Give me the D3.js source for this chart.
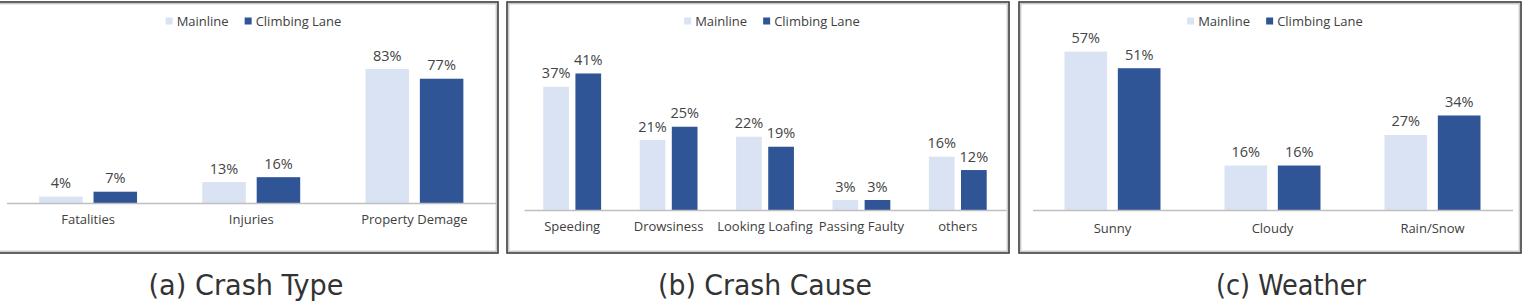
<!DOCTYPE html>
<html>
<head>
<meta charset="utf-8">
<script src="https://cdn.jsdelivr.net/npm/d3@7"></script>
<style>
  body { margin: 0; background: #fff; }
  svg { display: block; }
  .val { font-family: "Open Sans", sans-serif; font-size: 14.5px; fill: #444; }
  .cat text { font-family: "Open Sans", sans-serif; font-size: 13px; fill: #404040; }
  .leg { font-family: "Open Sans", sans-serif; font-size: 13px; fill: #404040; }
  .cap { font-family: "Liberation Sans Narrow", "DejaVu Sans Condensed", sans-serif; font-size: 28px; fill: #333; }
</style>
</head>
<body>
<svg id="chart" width="1533" height="301"></svg>
<script>
// data
var series = ['Mainline', 'Climbing Lane'];

var type_cats = ['Fatalities', 'Injuries', 'Property  Demage'];
var type_main = [4, 13, 83];
var type_climb = [7, 16, 77];

var cause_cats = ['Speeding', 'Drowsiness', 'Looking Loafing', 'Passing Faulty', 'others'];
var cause_main = [37, 21, 22, 3, 16];
var cause_climb = [41, 25, 19, 3, 12];

var weather_cats = ['Sunny', 'Cloudy', 'Rain/Snow'];
var weather_main = [57, 16, 27];
var weather_climb = [51, 16, 34];

var captions = ['(a) Crash Type', '(b) Crash Cause', '(c) Weather'];

var colors = ['#DAE3F3', '#2F5597'];

// layout of the three boxes
var panels = [
	{cats: type_cats, main: type_main, climb: type_climb,
		box: [-6, 2, 504, 251], x: [6.5, 496], base: 203, ppct: 1.614, legc: 253.5, catdy: 24,
		cap: {x: 246, w: 195}},
	{cats: cause_cats, main: cause_main, climb: cause_climb,
		box: [507, 2, 502, 251], x: [524, 1006], base: 210, ppct: 3.33, legc: 772, catdy: 24,
		cap: {x: 765, w: 214}},
	{cats: weather_cats, main: weather_main, climb: weather_climb,
		box: [1019, 2, 502, 251], x: [1032.5, 1512.5], base: 210, ppct: 2.78, legc: 1275, catdy: 26,
		cap: {x: 1291, w: 150}}
];

var svg = d3.select('#chart');

panels.forEach(function(p, k) {
	var g = svg.append('g');

	// frame (dark line with a grey inner line)
	g.append('rect')
		.attr('x', p.box[0]).attr('y', p.box[1])
		.attr('width', p.box[2]).attr('height', p.box[3])
		.attr('fill', 'none').attr('stroke', '#3c3c3c').attr('stroke-width', 1.6);
	g.append('rect')
		.attr('x', p.box[0] + 1.8).attr('y', p.box[1] + 1.8)
		.attr('width', p.box[2] - 3.6).attr('height', p.box[3] - 3.6)
		.attr('fill', 'none').attr('stroke', '#b4b4b4').attr('stroke-width', 1);

	var x0 = d3.scaleBand()
		.domain(p.cats)
		.range(p.x)
		.padding(0);

	var x1 = d3.scaleBand()
		.domain(series)
		.range([0, x0.bandwidth()])
		.paddingInner(0.2)
		.paddingOuter(0.6);

	var y = d3.scaleLinear()
		.domain([0, 100])
		.range([p.base, p.base - 100 * p.ppct]);

	var rows = p.cats.map(function(c, i) {
		return [{cat: c, s: series[0], v: p.main[i]}, {cat: c, s: series[1], v: p.climb[i]}];
	});
	var flat = [].concat.apply([], rows);

	g.selectAll('rect.bar')
		.data(flat).enter()
		.append('rect')
		.attr('class', 'bar')
		.attr('x', function(d) { return x0(d.cat) + x1(d.s); })
		.attr('y', function(d) { return y(d.v); })
		.attr('width', x1.bandwidth())
		.attr('height', function(d) { return y(0) - y(d.v); })
		.attr('fill', function(d) { return d.s == series[0] ? colors[0] : colors[1]; });

	g.selectAll('text.val')
		.data(flat).enter()
		.append('text')
		.attr('class', 'val')
		.attr('x', function(d) { return x0(d.cat) + x1(d.s) + x1.bandwidth() / 2; })
		.attr('y', function(d) { return y(d.v) - 8.5; })
		.attr('text-anchor', 'middle')
		.text(function(d) { return d.v + '%'; });

	// baseline and category names
	var ax = g.append('g')
		.attr('class', 'cat')
		.attr('transform', 'translate(0,' + p.base + ')')
		.call(d3.axisBottom(x0).tickSize(0).tickPadding(p.catdy - 12));
	ax.select('.domain').attr('stroke', '#bfbfbf').attr('stroke-width', 1.6);
	ax.selectAll('text').attr('fill', '#404040').attr('font-family', null).attr('font-size', null);

	// legend
	var leg = g.append('g');
	var xx = 0;
	series.forEach(function(s, i) {
		leg.append('rect')
			.attr('x', xx).attr('y', -3.5)
			.attr('width', 7).attr('height', 7)
			.attr('fill', colors[i]);
		var t = leg.append('text')
			.attr('class', 'leg')
			.attr('x', xx + 11).attr('y', 4.5)
			.text(s);
		xx += 11 + t.node().getComputedTextLength() + 16;
	});
	var lw = xx - 16;
	leg.attr('transform', 'translate(' + (p.legc - lw / 2) + ',21)');

	// caption
	svg.append('text')
		.attr('class', 'cap')
		.attr('x', p.cap.x).attr('y', 295)
		.attr('text-anchor', 'middle')
		.attr('textLength', p.cap.w)
		.attr('lengthAdjust', 'spacingAndGlyphs')
		.text(captions[k]);
});
</script>
</body>
</html>
